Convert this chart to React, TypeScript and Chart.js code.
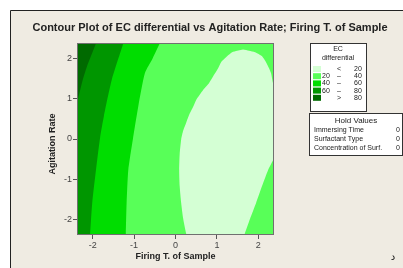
import React, { useEffect, useRef } from "react";
import { Chart, registerables } from "chart.js";

Chart.register(...registerables);

// ---- data ----
const titleText = "Contour Plot of EC differential vs Agitation Rate; Firing T. of Sample";
const xTitle = "Firing T. of Sample";
const yTitle = "Agitation Rate";
const axisLimit = 2.378;
const xTicks = [-2, -1, 0, 1, 2];
const yTicks = [-2, -1, 0, 1, 2];

const levelColors = ["#d4ffd4", "#58ff58", "#00dd00", "#009600", "#006a00"];
const levelLow = ["", "20", "40", "60", ""];
const levelOp = ["<", "–", "–", "–", ">"];
const levelHigh = ["20", "40", "60", "80", "80"];
const legendTitle = ["EC", "differential"];

const holdTitle = "Hold Values";
const holdNames = ["Immersing Time", "Surfactant Type", "Concentration of Surf."];
const holdValues = [0, 0, 0];
const cornerMark = "د";

// contour boundaries (x = Firing T., y = Agitation Rate)
const regionBelow20: [number, number][] = [
  [1.631, 2.214], [1.776, 2.184], [1.92, 2.147], [2.089, 2.049], [2.185, 1.902], [2.258, 1.755],
  [2.306, 1.632], [2.354, 1.387], [2.45, 1.0], [2.5, 0.45], [2.45, -0.1], [2.378, -0.45],
  [2.354, -0.528], [2.234, -0.773], [2.089, -1.166], [1.945, -1.583], [1.8, -1.975], [1.672, -2.344],
  [1.62, -2.5], [1.0, -2.7], [0.3, -2.5],
  [0.258, -2.344], [0.186, -1.975], [0.137, -1.583], [0.101, -1.166], [0.089, -0.773], [0.101, -0.38],
  [0.137, -0.012], [0.186, 0.209], [0.258, 0.405], [0.33, 0.601], [0.426, 0.798], [0.499, 0.969],
  [0.667, 1.215], [0.812, 1.387], [0.957, 1.632], [1.029, 1.755], [1.101, 1.902], [1.246, 2.049],
  [1.366, 2.147], [1.487, 2.184],
];
const regionAbove40: [number, number][] = [
  [-0.27, 2.6], [-0.38, 2.37], [-0.55, 2.0], [-0.74, 1.63], [-0.9, 0.8], [-1.03, -0.01],
  [-1.14, -0.77], [-1.18, -1.58], [-1.2, -2.34], [-1.21, -2.6], [-3, -2.6], [-3, 2.6],
];
const regionAbove60: [number, number][] = [
  [-1.2, 2.6], [-1.26, 2.37], [-1.54, 1.46], [-1.73, 0.56], [-1.82, 0.04], [-1.92, -0.77],
  [-2.01, -1.58], [-2.06, -2.34], [-2.07, -2.6], [-3, -2.6], [-3, 2.6],
];
const regionAbove80: [number, number][] = [
  [-1.86, 2.6], [-1.92, 2.37], [-2.14, 1.79], [-2.24, 1.46], [-2.34, 1.05], [-2.42, 0.75],
  [-3, 0.5], [-3, 2.6],
];

const FONT = "'Liberation Sans', Arial, sans-serif";

export default function App() {
  const ref = useRef<HTMLCanvasElement | null>(null);

  useEffect(() => {
    const canvas = ref.current;
    if (!canvas) return;

    const toPts = (arr: [number, number][]) => arr.map(([x, y]) => ({ x, y }));
    const mk = (arr: [number, number][], color: string) => ({
      data: toPts(arr),
      showLine: true,
      fill: "shape",
      backgroundColor: color,
      borderColor: color,
      borderWidth: 0,
      pointRadius: 0,
      tension: 0.2,
    });

    const decor = {
      id: "decor",
      beforeDraw(chart: any) {
        const { ctx, width, height } = chart;
        ctx.save();
        ctx.fillStyle = "#ffffff";
        ctx.fillRect(0, 0, width, height);
        ctx.fillStyle = "#efebe2";
        ctx.fillRect(10, 10, width - 10, height - 10);
        ctx.strokeStyle = "#222";
        ctx.lineWidth = 1;
        ctx.beginPath();
        ctx.moveTo(10.5, height);
        ctx.lineTo(10.5, 10.5);
        ctx.lineTo(width, 10.5);
        ctx.stroke();
        // title
        ctx.fillStyle = "#222";
        ctx.font = `bold 11px ${FONT}`;
        ctx.textAlign = "center";
        ctx.textBaseline = "middle";
        ctx.fillText(titleText, 210, 28);
        // y axis title
        ctx.save();
        ctx.translate(53, 144);
        ctx.rotate(-Math.PI / 2);
        ctx.font = `bold 9px ${FONT}`;
        ctx.fillText(yTitle, 0, 0);
        ctx.restore();
        ctx.restore();
      },
      beforeDatasetsDraw(chart: any) {
        const { ctx, chartArea: a } = chart;
        ctx.save();
        ctx.fillStyle = levelColors[1];
        ctx.fillRect(a.left, a.top, a.right - a.left, a.bottom - a.top);
        ctx.beginPath();
        ctx.rect(a.left, a.top, a.right - a.left, a.bottom - a.top);
        ctx.clip();
      },
      afterDatasetsDraw(chart: any) {
        const { ctx, chartArea: a } = chart;
        ctx.restore();
        ctx.save();
        ctx.strokeStyle = "#707070";
        ctx.lineWidth = 1;
        ctx.strokeRect(a.left + 0.5, a.top + 0.5, a.right - a.left - 1, a.bottom - a.top - 1);
        ctx.restore();
      },
      afterDraw(chart: any) {
        const { ctx } = chart;
        ctx.save();
        // contour legend box
        ctx.fillStyle = "#ffffff";
        ctx.fillRect(310, 43, 56, 68);
        ctx.strokeStyle = "#333";
        ctx.lineWidth = 1;
        ctx.strokeRect(310.5, 43.5, 56, 68);
        ctx.fillStyle = "#222";
        ctx.font = `7px ${FONT}`;
        ctx.textBaseline = "middle";
        ctx.textAlign = "center";
        ctx.fillText(legendTitle[0], 338, 49);
        ctx.fillText(legendTitle[1], 338, 58);
        for (let i = 0; i < levelColors.length; i++) {
          const cy = 69 + i * 7.2;
          ctx.fillStyle = levelColors[i];
          ctx.fillRect(313, cy - 3, 8, 6);
          ctx.fillStyle = "#222";
          ctx.textAlign = "left";
          if (levelLow[i]) ctx.fillText(levelLow[i], 322, cy);
          ctx.textAlign = "center";
          ctx.fillText(levelOp[i], 339, cy);
          ctx.textAlign = "left";
          ctx.fillText(levelHigh[i], 354, cy);
        }
        // hold values box
        ctx.fillStyle = "#ffffff";
        ctx.fillRect(309, 113, 93, 42);
        ctx.strokeStyle = "#333";
        ctx.strokeRect(309.5, 113.5, 93, 42);
        ctx.fillStyle = "#222";
        ctx.textAlign = "center";
        ctx.font = `8px ${FONT}`;
        ctx.fillText(holdTitle, 356, 120.5);
        ctx.font = `7px ${FONT}`;
        for (let i = 0; i < holdNames.length; i++) {
          const cy = 130 + i * 9;
          ctx.textAlign = "left";
          ctx.fillText(holdNames[i], 314, cy);
          ctx.textAlign = "right";
          ctx.fillText(String(holdValues[i]), 400, cy);
        }
        ctx.font = `10px 'DejaVu Sans', sans-serif`;
        ctx.textAlign = "center";
        ctx.fillStyle = "#111";
        ctx.fillText(cornerMark, 393, 257);
        ctx.restore();
      },
    };

    const chart = new Chart(canvas, {
      type: "scatter",
      data: {
        datasets: [
          mk(regionAbove80, levelColors[4]),
          mk(regionAbove60, levelColors[3]),
          mk(regionAbove40, levelColors[2]),
          mk(regionBelow20, levelColors[0]),
        ] as any,
      },
      options: {
        animation: false,
        responsive: false,
        events: [],
        layout: { padding: { top: 43, right: 129, left: 0, bottom: 0 } },
        plugins: {
          legend: { display: false },
          tooltip: { enabled: false },
          title: { display: false },
        },
        scales: {
          x: {
            type: "linear",
            min: -axisLimit,
            max: axisLimit,
            afterBuildTicks: (axis: any) => {
              axis.ticks = xTicks.map((v) => ({ value: v }));
            },
            afterFit: (axis: any) => {
              axis.height = 33;
            },
            ticks: {
              color: "#444",
              font: { family: FONT, size: 9 },
              padding: 1,
              maxRotation: 0,
              callback: (v: any) => String(v),
            },
            grid: { drawOnChartArea: false, tickLength: 4, color: "#555" },
            border: { display: false },
            title: {
              display: true,
              text: xTitle,
              color: "#222",
              font: { family: FONT, size: 9, weight: "bold" },
              padding: { top: 0, bottom: 5.6 },
            },
          },
          y: {
            type: "linear",
            min: -axisLimit,
            max: axisLimit,
            afterBuildTicks: (axis: any) => {
              axis.ticks = yTicks.map((v) => ({ value: v }));
            },
            afterFit: (axis: any) => {
              axis.width = 77;
            },
            ticks: {
              color: "#444",
              font: { family: FONT, size: 9 },
              padding: 1,
              callback: (v: any) => String(v),
            },
            grid: { drawOnChartArea: false, tickLength: 4, color: "#555" },
            border: { display: false },
            title: { display: false },
          },
        },
      },
      plugins: [decor],
    } as any);

    return () => chart.destroy();
  }, []);

  return (
    <canvas
      ref={ref}
      width={403}
      height={268}
      style={{ position: "fixed", left: 0, top: 0, width: 403, height: 268, display: "block" }}
    />
  );
}
